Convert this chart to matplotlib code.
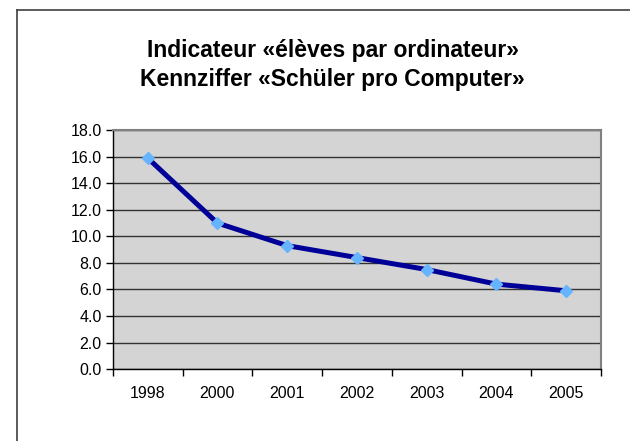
"""Indicateur eleves par ordinateur - line chart"""
import matplotlib
matplotlib.use("Agg")
from matplotlib import pyplot as plt
from matplotlib.lines import Line2D

plt.rcParams['font.family'] = ['Liberation Sans', 'DejaVu Sans']

years = ["1998", "2000", "2001", "2002", "2003", "2004", "2005"]
pupils_per_computer = [15.9, 11.0, 9.3, 8.4, 7.5, 6.4, 5.9]
y_ticks = [0, 2, 4, 6, 8, 10, 12, 14, 16, 18]

fig = plt.figure(figsize=(6.3, 4.41), dpi=100)
ax = fig.add_axes([0.179, 0.163, 0.775, 0.542])

positions = list(range(len(years)))
ax.set_facecolor("#d4d4d4")
ax.plot(positions, pupils_per_computer, color="#000099", linewidth=3.6,
        marker="D", markersize=6, markerfacecolor="#66b3ff",
        markeredgecolor="#66b3ff", zorder=3)

ax.set_xlim(-0.5, len(years) - 0.5)
ax.set_ylim(0, 18)
ax.set_yticks(y_ticks)
ax.set_yticklabels([f"{v:.1f}" for v in y_ticks], fontsize=11.5)
ax.set_xticks(positions)
ax.set_xticklabels(years, fontsize=11.5)
ax.set_xticks([p + 0.5 for p in [-1] + positions], minor=True)
ax.tick_params(axis="x", which="major", length=0, pad=12)
ax.tick_params(axis="x", which="minor", length=5, direction="out", width=1)
ax.tick_params(axis="y", length=5, direction="out", width=1, pad=3)

ax.grid(axis="y", color="#333333", linewidth=1)
ax.set_axisbelow(True)
for side in ["top", "right"]:
    ax.spines[side].set_color("#808080")
    ax.spines[side].set_linewidth(1.5)
for side in ["left", "bottom"]:
    ax.spines[side].set_color("black")
    ax.spines[side].set_linewidth(1)

fig.text(0.528, 0.886, "Indicateur «élèves par ordinateur»", ha="center",
         va="center", fontsize=16.5, fontweight="bold")
fig.text(0.528, 0.820, "Kennziffer «Schüler pro Computer»", ha="center",
         va="center", fontsize=16.5, fontweight="bold")

# outer frame (left and top edges only visible)
fig.add_artist(Line2D([17 / 630, 17 / 630], [0, 1 - 10 / 441],
                      transform=fig.transFigure, color="#404040", linewidth=1.2))
fig.add_artist(Line2D([17 / 630, 1], [1 - 10 / 441, 1 - 10 / 441],
                      transform=fig.transFigure, color="#404040", linewidth=1.2))

fig.savefig("out.png", dpi=100)
